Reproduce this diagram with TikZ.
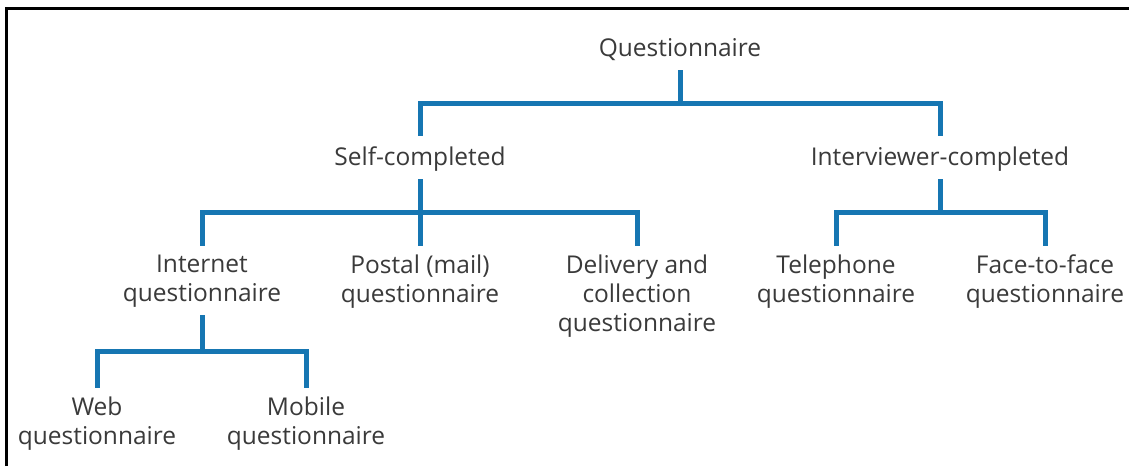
\documentclass[tikz,border=0pt]{standalone}
\usepackage{fontspec}
\setmainfont{Open Sans}
\usetikzlibrary{calc}
\definecolor{branchblue}{RGB}{22,118,178}
\definecolor{labelgrey}{RGB}{58,58,58}
\tikzset{
  label text/.style={anchor=north, inner sep=0pt, outer sep=0pt, align=center,
    text=labelgrey, font=\fontsize{24.5}{29}\selectfont,
    execute at begin node=\strut, execute at end node=\strut},
  branch/.style={draw=branchblue, line width=5pt, line join=miter},
}
% tree connector: stem below the parent, horizontal bar halfway, drop to the child
\newcommand\branchline[2]{%
  \draw[branch] ([yshift=-5.3pt]#1.south) coordinate (stem-top)
    |- ($(stem-top)!.5!([yshift=8.7pt]#2.north)$) -| ([yshift=8.7pt]#2.north);}
\begin{document}
\begin{tikzpicture}[x=1pt, y=-1pt]
\useasboundingbox (0,0) rectangle (1129,466);
\fill[white] (0,0) rectangle (1129,466);
% frame along the top and left edges
\draw[line width=3pt, black] (6.5,466) -- (6.5,8.5) -- (1129,8.5);

\node[label text] (q)        at (680,35.7)  {Questionnaire};
\node[label text] (self)     at (420,144.7) {Self-completed};
\node[label text] (inter)    at (940,144.7) {Interviewer-completed};
\node[label text] (internet) at (202,254.7) {Internet\\questionnaire};
\node[label text] (postal)   at (420,254.7) {Postal (mail)\\questionnaire};
\node[label text] (delivery) at (637,254.7) {Delivery and\\collection\\questionnaire};
\node[label text] (tel)      at (836,254.7) {Telephone\\questionnaire};
\node[label text] (face)     at (1045,254.7) {Face-to-face\\questionnaire};
\node[label text] (web)      at (97,396.7)  {Web\\questionnaire};
\node[label text] (mobile)   at (306,396.7) {Mobile\\questionnaire};

\branchline{q}{self}
\branchline{q}{inter}
\branchline{self}{internet}
\branchline{self}{postal}
\branchline{self}{delivery}
\branchline{inter}{tel}
\branchline{inter}{face}
\branchline{internet}{web}
\branchline{internet}{mobile}
\end{tikzpicture}
\end{document}
